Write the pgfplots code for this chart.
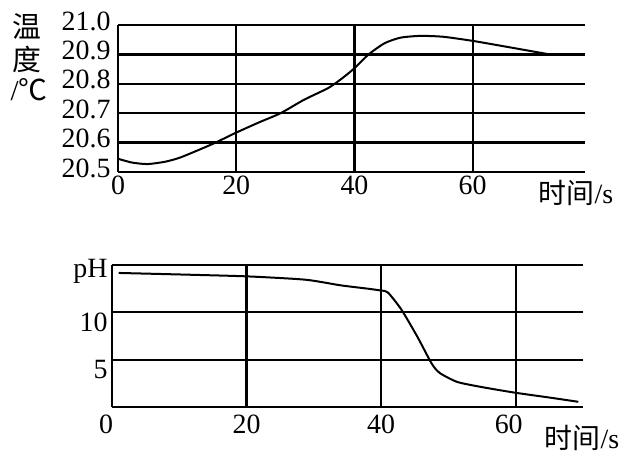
\documentclass[border=0pt]{standalone}
\usepackage{pgfplots}
\pgfplotsset{compat=1.18}
\usepackage{fontspec}
\setmainfont{Liberation Serif}
\newfontfamily\cjk{Noto Sans CJK SC}

\pgfplotstableread{
x y
0 20.545
2.4 20.532
5 20.527
8 20.535
10.5 20.549
14 20.578
16.5 20.600
20 20.634
24 20.670
27.5 20.700
31.5 20.746
35.6 20.786
38 20.820
40 20.853
42.4 20.900
45.1 20.938
47.8 20.957
51.2 20.963
55 20.960
60 20.946
66 20.925
73 20.900
}\temptable

\pgfplotstableread{
x y
1 14.16
10 14.00
20 13.80
28.7 13.45
34 12.85
38 12.50
40 12.30
41 12.10
43 10.30
45.4 7.40
47.5 4.60
48.7 3.60
51.3 2.65
55 2.10
60 1.50
65 1.00
69.3 0.55
}\phtable

\begin{document}
\begin{tikzpicture}
\useasboundingbox (0,0) rectangle (629bp,454bp);
\pgfplotsset{
  myax/.style={
    scale only axis,
    anchor=south west,
    axis line style={draw=none},
    tick style={draw=none},
    xmajorgrids, ymajorgrids,
    major grid style={black, line width=2.2bp},
    tick label style={font=\fontsize{28}{28}\selectfont},
    /pgf/number format/assume math mode=true,
    clip=false,
  }
}
\begin{axis}[myax, at={(118bp,282bp)}, width=467bp, height=147bp,
  xmin=0, xmax=79, ymin=20.5, ymax=21.0,
  xtick={0,20,40,60}, xticklabels={0,20,40,60},
  ytick={20.5,20.6,20.7,20.8,20.9,21.0},
  yticklabels={20.5,20.6,20.7,20.8,20.9,21.0},
  yticklabel style={yshift=4bp, xshift=-4bp},
]
\addplot[black, line width=2bp, smooth, tension=0.4] table[x=x,y=y] {\temptable};
\end{axis}

\begin{axis}[myax, at={(112bp,47bp)}, width=471bp, height=142bp,
  xmin=0, xmax=70, ymin=0, ymax=15,
  xtick={0,20,40,60}, xticklabels={\llap{0\kern-1bp},20,40,\llap{6}0},
  xticklabel style={yshift=-4bp},
  ytick={0,5,10,15}, yticklabels={,5,10,\raisebox{0pt}[6bp][0pt]{pH}},
  yticklabel style={yshift=-10bp, xshift=-1bp},
]
\addplot[black, line width=2bp, smooth, tension=0.4] table[x=x,y=y] {\phtable};
\end{axis}

\node[font=\cjk\fontsize{29}{29}\selectfont] at (27bp,428bp) {温};
\node[font=\cjk\fontsize{29}{29}\selectfont] at (27bp,395bp) {度};
\node[font=\fontsize{29}{29}\selectfont] at (29bp,364bp) {/{\cjk ℃}};
\node[font=\fontsize{28}{28}\selectfont] at (576bp,261bp) {{\cjk 时间}/s};
\node[font=\fontsize{28}{28}\selectfont] at (582bp,16bp) {{\cjk 时间}/s};
\end{tikzpicture}
\end{document}
